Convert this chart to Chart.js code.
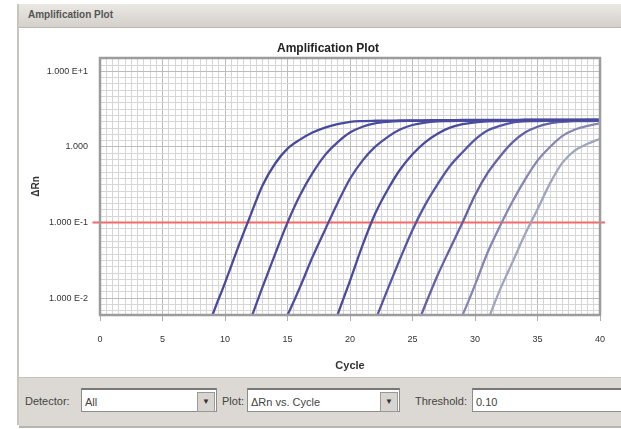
<!DOCTYPE html>
<html>
<head>
<meta charset="UTF-8">
<title>Amplification Plot</title>
<script src="https://cdn.jsdelivr.net/npm/chart.js"></script>
<style>
    body { margin: 0; width: 621px; height: 429px; background: #fff; font-family: "Liberation Sans", Arial, sans-serif; position: relative; overflow: hidden; }
    #frame { position: absolute; left: 17px; top: 4px; width: 604px; height: 421px; border-left: 2px solid #c8c4c0; background: #fff; }
    #titlebar { position: absolute; left: 0; top: 0; width: 604px; height: 23px; background: linear-gradient(#ebe8e4, #d4d0cb); border-bottom: 1px solid #bdb8b2; }
    #titlebar span { position: absolute; left: 9px; top: 5px; font-size: 10px; font-weight: bold; color: #555; }
    #plotbox { position: absolute; left: 1px; top: 26px; }
    #controls { position: absolute; left: 0; top: 373px; width: 604px; height: 48px; background: #dcd8d3; border-top: 1px solid #c4c0ba; border-bottom: 2px solid #b8b4ae; }
    .lbl { position: absolute; top: 17px; font-size: 11px; color: #444; }
    .box { position: absolute; top: 10px; height: 24px; background: #fff; border: 1px solid #8c8c8c; border-top: 2px solid #777; font-size: 11px; color: #444; line-height: 24px; padding-left: 3px; box-sizing: border-box; }
    .arr { position: absolute; right: 1px; top: 2px; width: 16px; height: 18px; background: #d8d4cf; border: 1px solid #999; font-size: 8px; line-height: 18px; text-align: center; color: #333; }
</style>
</head>
<body>
<div id="frame">
    <div id="titlebar"><span>Amplification Plot</span></div>
    <div id="plotbox"><canvas id="ampChart" width="601" height="346"></canvas></div>
    <div id="controls">
        <span class="lbl" style="left:6px">Detector:</span>
        <div class="box" style="left:62px;width:136px">All<span class="arr">▼</span></div>
        <span class="lbl" style="left:203px">Plot:</span>
        <div class="box" style="left:228px;width:153px">ΔRn vs. Cycle<span class="arr">▼</span></div>
        <span class="lbl" style="left:396px">Threshold:</span>
        <div class="box" style="left:453px;width:151px">0.10</div>
    </div>
</div>
<script>
    // axis ticks
    const xTicks = [0, 5, 10, 15, 20, 25, 30, 35, 40];
    const yTickValues = [0.01, 0.1, 1, 10];
    const yTickLabels = ['1.000 E-2', '1.000 E-1', '1.000', '1.000 E+1'];
    const threshold = 0.1;
    const chartTitle = 'Amplification Plot';

    // dRn per cycle, each curve starts at curveStarts[i]
    const curveStarts = [8, 11, 14, 18, 21, 25, 28, 30];
    const curve1 = [0.002, 0.006, 0.016, 0.045, 0.12, 0.31, 0.6, 0.95, 1.25, 1.55, 1.8, 2.0, 2.15, 2.2, 2.22, 2.23, 2.24, 2.25, 2.25, 2.26, 2.26, 2.27, 2.27, 2.28, 2.28, 2.28, 2.29, 2.29, 2.29, 2.3, 2.3, 2.3, 2.3];
    const curve2 = [0.002, 0.005, 0.014, 0.038, 0.1, 0.23, 0.45, 0.78, 1.15, 1.55, 1.85, 2.05, 2.15, 2.2, 2.21, 2.22, 2.23, 2.24, 2.24, 2.25, 2.25, 2.26, 2.26, 2.27, 2.27, 2.27, 2.28, 2.28, 2.28, 2.28];
    const curve3 = [0.003, 0.006, 0.014, 0.035, 0.08, 0.18, 0.38, 0.66, 1.0, 1.35, 1.7, 1.95, 2.1, 2.18, 2.2, 2.21, 2.22, 2.23, 2.23, 2.24, 2.24, 2.25, 2.25, 2.26, 2.26, 2.27, 2.27];
    const curve4 = [0.002, 0.006, 0.017, 0.05, 0.13, 0.27, 0.5, 0.8, 1.15, 1.5, 1.8, 2.0, 2.12, 2.18, 2.2, 2.21, 2.22, 2.23, 2.23, 2.24, 2.24, 2.25, 2.25];
    const curve5 = [0.002, 0.005, 0.013, 0.033, 0.08, 0.17, 0.32, 0.56, 0.85, 1.25, 1.65, 1.9, 2.1, 2.18, 2.2, 2.21, 2.22, 2.22, 2.23, 2.23];
    const curve6 = [0.003, 0.008, 0.02, 0.045, 0.1, 0.23, 0.45, 0.75, 1.15, 1.55, 1.85, 2.05, 2.15, 2.2, 2.2, 2.22];
    const curve7 = [0.003, 0.006, 0.015, 0.04, 0.09, 0.19, 0.37, 0.66, 1.0, 1.4, 1.7, 1.9, 2.05];
    const curve8 = [0.002, 0.005, 0.013, 0.03, 0.07, 0.15, 0.33, 0.62, 0.9, 1.1, 1.28];
    const curves = [curve1, curve2, curve3, curve4, curve5, curve6, curve7, curve8];
    const curveColors = ['#4a4a9c', '#4c4c9e', '#4e4ea0', '#4a4a9e', '#5656a6', '#6262a6', '#8486b6', '#9ea6be'];

    const datasets = curves.map((vals, i) => ({
        data: vals.map((v, k) => ({ x: curveStarts[i] + k, y: v })),
        borderColor: curveColors[i],
        borderWidth: 2.3,
        pointRadius: 0,
        cubicInterpolationMode: 'monotone'
    }));
    datasets.push({
        data: [{ x: -0.6, y: threshold }, { x: 40.4, y: threshold }],
        borderColor: '#f26a6a',
        borderWidth: 2,
        pointRadius: 0,
        clip: { left: 10, right: 8, top: 0, bottom: 0 }
    });

    function isYLabel(v) {
        return yTickValues.findIndex(t => Math.abs(Math.log10(v) - Math.log10(t)) < 1e-9);
    }

    // plot frame + title (title sits a bit left of the plot centre in the original)
    const frameBorder = {
        id: 'frameBorder',
        afterDatasetsDraw(chart) {
            const a = chart.chartArea, ctx = chart.ctx;
            ctx.save();
            ctx.strokeStyle = '#9c9c9c';
            ctx.lineWidth = 2.5;
            ctx.strokeRect(a.left, a.top, a.right - a.left, a.bottom - a.top);
            ctx.fillStyle = '#222';
            ctx.font = 'bold 12px "Liberation Sans", Arial, sans-serif';
            ctx.textAlign = 'center';
            ctx.textBaseline = 'middle';
            ctx.fillText(chartTitle, (a.left + a.right) / 2 - 22, a.top - 9);
            ctx.restore();
        }
    };

    new Chart(document.getElementById('ampChart'), {
        type: 'line',
        data: { datasets: datasets },
        plugins: [frameBorder],
        options: {
            responsive: false,
            animation: false,
            layout: { padding: { left: 0, right: 21, top: 28, bottom: 0 } },
            plugins: {
                legend: { display: false },
                tooltip: { enabled: false },
                title: { display: false }
            },
            scales: {
                x: {
                    type: 'linear',
                    min: 0,
                    max: 40,
                    afterFit: s => { s.height = 61; },
                    ticks: {
                        stepSize: 0.5,
                        autoSkip: false,
                        maxRotation: 0,
                        padding: 13,
                        color: '#333',
                        font: { size: 9, family: 'Liberation Sans' },
                        callback: v => xTicks.includes(v) ? String(v) : ''
                    },
                    grid: {
                        color: c => (c.tick && xTicks.includes(c.tick.value)) ? '#bcbcbc' : '#d6d6d6',
                        tickColor: c => (c.tick && xTicks.includes(c.tick.value)) ? '#b0b0b0' : 'rgba(0,0,0,0)',
                        tickLength: 6
                    },
                    border: { display: false },
                    title: {
                        display: true,
                        text: 'Cycle',
                        color: '#333',
                        font: { size: 11, weight: 'bold', family: 'Liberation Sans' },
                        padding: { top: 0, bottom: 3 }
                    }
                },
                y: {
                    type: 'logarithmic',
                    min: 0.006,
                    max: 15,
                    afterFit: s => { s.width = 80; },
                    afterBuildTicks: s => {
                        const t = [];
                        for (let d = -3; d <= 1; d++) {
                            for (let k = 0; k < 12; k++) {
                                const v = Math.pow(10, d + k / 12);
                                if (v >= s.min && v <= s.max) t.push({ value: v });
                            }
                        }
                        s.ticks = t;
                    },
                    ticks: {
                        autoSkip: false,
                        padding: 12,
                        color: '#333',
                        font: { size: 9, family: 'Liberation Sans' },
                        callback: v => { const i = isYLabel(v); return i >= 0 ? yTickLabels[i] : ''; }
                    },
                    grid: {
                        drawTicks: false,
                        color: c => (c.tick && isYLabel(c.tick.value) >= 0) ? '#bcbcbc' : '#d6d6d6'
                    },
                    border: { display: false },
                    title: {
                        display: true,
                        text: 'ΔRn',
                        color: '#333',
                        font: { size: 10, weight: 'bold', family: 'Liberation Sans' },
                        padding: { top: 10, bottom: 0 }
                    }
                }
            }
        }
    });
</script>
</body>
</html>
